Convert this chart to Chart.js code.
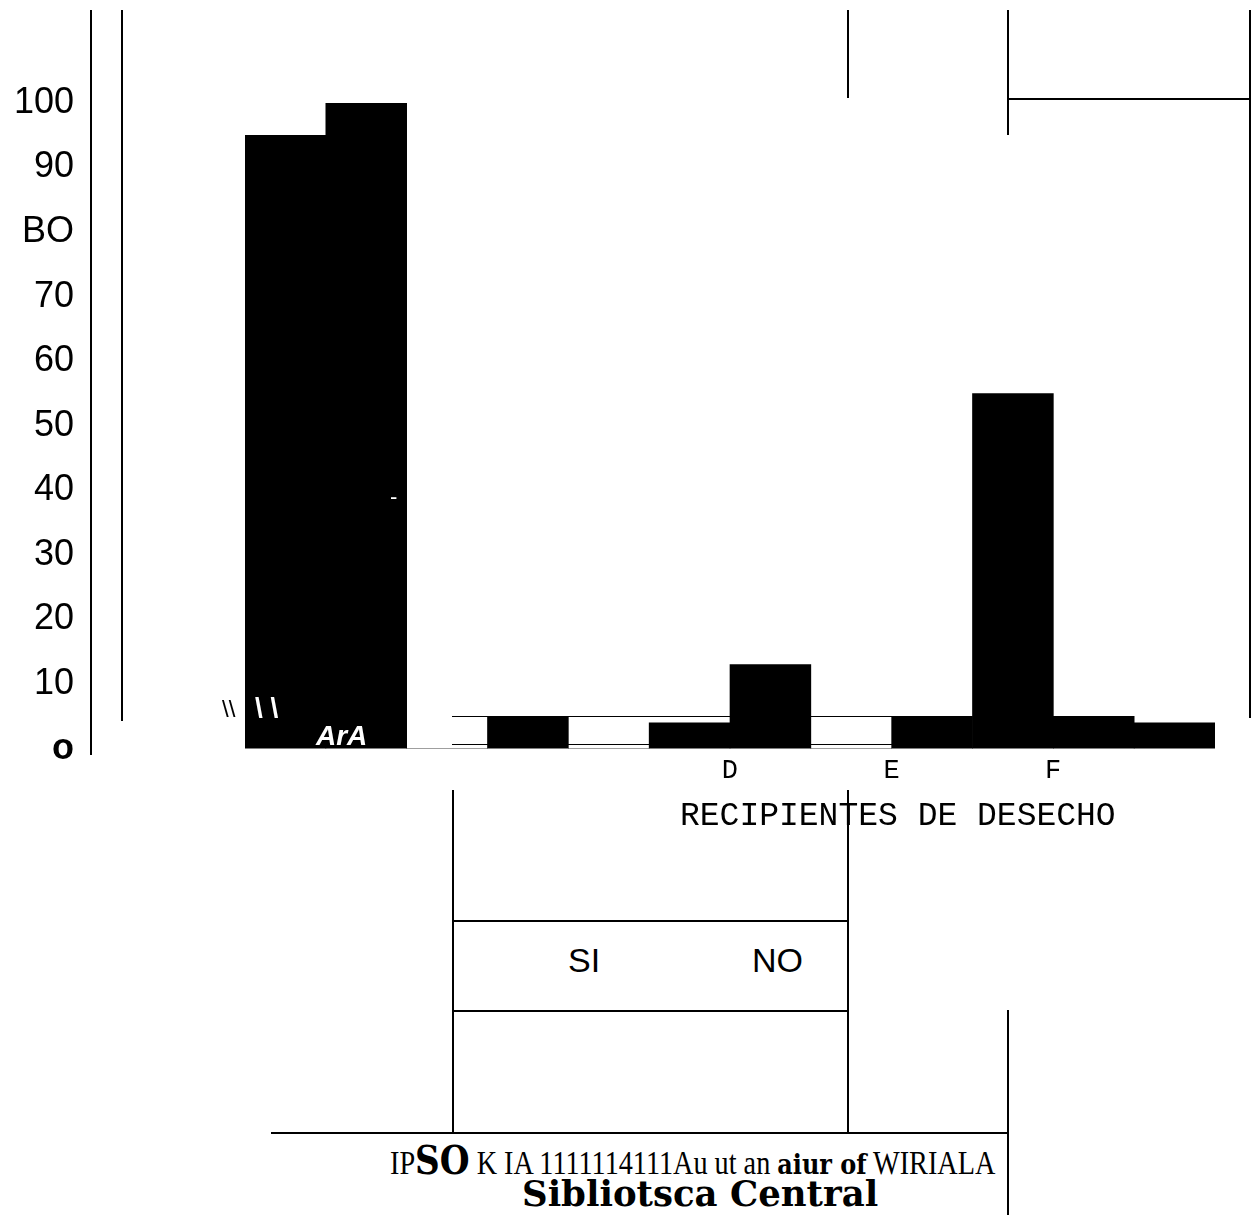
<!DOCTYPE html>
<html>
<head>
<meta charset="utf-8">
<script src="https://cdn.jsdelivr.net/npm/chart.js@4.4.0/dist/chart.umd.min.js"></script>
<style>
  body{margin:0;background:#fff;width:1257px;height:1215px;overflow:hidden;position:relative;font-family:"Liberation Sans",Arial,sans-serif}
  .ln{position:absolute;background:#000;z-index:0}
  #grafico{position:absolute;left:0;top:0;z-index:1}
  .txt{position:absolute;z-index:2;white-space:nowrap;line-height:1}
  #leyenda{position:absolute;left:453px;top:920px;width:395px;height:88px;border-top:2px solid #000;border-bottom:2px solid #000;z-index:2}
  #leyenda span{position:absolute;top:19px;font-size:34px}
</style>
</head>
<body>
<!-- lineas del escaneo -->
<div class="ln" style="left:90px;top:10px;width:2px;height:745px"></div>
<div class="ln" style="left:121px;top:10px;width:2px;height:711px"></div>
<div class="ln" style="left:847px;top:10px;width:2px;height:88px"></div>
<div class="ln" style="left:1007px;top:10px;width:2px;height:125px"></div>
<div class="ln" style="left:1008px;top:98px;width:242px;height:2px"></div>
<div class="ln" style="left:1249px;top:10px;width:2px;height:708px"></div>
<div class="ln" style="left:452px;top:716px;width:488px;height:1px"></div>
<div class="ln" style="left:452px;top:744px;width:488px;height:1px"></div>
<div class="ln" style="left:452px;top:790px;width:2px;height:343px"></div>
<div class="ln" style="left:847px;top:790px;width:2px;height:343px"></div>
<div class="ln" style="left:1007px;top:1010px;width:2px;height:205px"></div>
<div class="ln" style="left:271px;top:1132px;width:737px;height:2px"></div>

<canvas id="grafico" width="1257" height="860"></canvas>

<div class="txt" style="left:680px;top:800px;font-family:'Liberation Mono',monospace;font-size:33px">RECIPIENTES DE DESECHO</div>
<div id="leyenda"></div>

<div class="txt" style="left:222px;top:697px;font-size:24px">\\</div>
<div class="txt" style="left:255px;top:694px;font-size:28px;font-weight:bold;color:#fff;z-index:3">\ \</div>
<div class="txt" style="left:316px;top:722px;font-size:28px;font-weight:bold;font-style:italic;color:#fff;z-index:3">ArA</div>
<div class="txt" style="left:390px;top:486px;font-size:22px;color:#fff;z-index:3">-</div>

<div class="txt" style="left:390px;top:1140px;font-family:'Liberation Serif',serif;font-size:33px;transform:scaleX(0.855);transform-origin:left">IP<b style="font-size:40px;font-family:'DejaVu Serif',serif">SO</b> K IA 1111114111Au ut an <b style="font-family:'DejaVu Serif',serif;font-size:28px">aiur of</b> WIRIALA</div>
<div class="txt" style="left:522px;top:1176px;font-family:'DejaVu Serif',serif;font-weight:bold;font-size:35.5px">Sibliotsca Central</div>

<script>
// datos
const recipientes=["A","B","C","D","E","F"];
const etiquetasX=["","","","D","E","F"];
const valoresSI=[95,0,0,13,5,5];
const valoresNO=[100,5,4,0,55,4];
const etiquetasY=["o","10","20","30","40","50","60","70","BO","90","100"];
const series=["SI","NO"];

const ctx=document.getElementById("grafico");
var chart=new Chart(ctx,{
    type:'bar',
    data:{
        labels:recipientes,
        datasets:[{
            label:series[0],
            data:valoresSI,
            backgroundColor:'#000',
            barPercentage:1,
            categoryPercentage:1
        },{
            label:series[1],
            data:valoresNO,
            backgroundColor:'#000',
            barPercentage:1,
            categoryPercentage:1
        }]
    },
    options:{
        responsive:false,
        animation:false,
        layout:{padding:{left:14,right:42,top:103,bottom:67}},
        plugins:{legend:{display:false},tooltip:{enabled:false}},
        scales:{
            x:{
                grid:{display:false,drawTicks:false},
                border:{display:false},
                ticks:{
                    color:'#000',
                    font:{family:'Liberation Mono',size:27},
                    padding:6,
                    labelOffset:-81,
                    maxRotation:0,
                    autoSkip:false,
                    callback:(v,i)=>etiquetasX[i]
                }
            },
            y:{
                min:0,max:100,
                grid:{display:false,drawTicks:false},
                border:{display:false},
                ticks:{
                    stepSize:10,
                    color:'#000',
                    font:(c)=>({family:'Liberation Sans',size:36,weight:(c.tick&&c.tick.value===0)?'bold':'normal'}),
                    padding:171,
                    callback:(v)=>etiquetasY[Math.round(v/10)]
                },
                // el padding grande de las etiquetas no debe comer alto
                afterFit:(s)=>{
                    s.width=231;
                    s.paddingTop=20;
                    s.paddingBottom=20;
                }
            }
        }
    }
})

// leyenda en caja
const leyenda=document.getElementById("leyenda");
const posLeyenda=[115,299];
series.forEach((s,i)=>{
    let sp=document.createElement("span");
    sp.textContent=s;
    sp.style.left=posLeyenda[i]+"px";
    leyenda.appendChild(sp);
})
</script>
</body>
</html>
